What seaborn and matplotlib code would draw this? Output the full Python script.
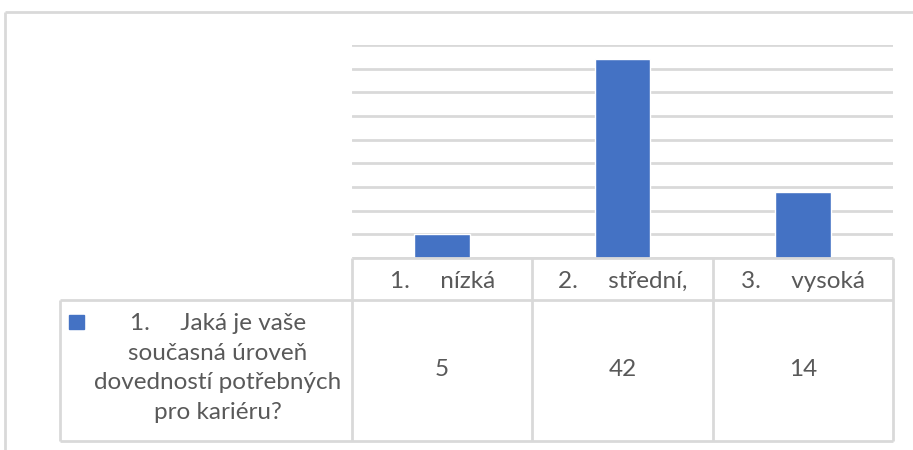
import numpy as np
import pandas as pd
import matplotlib
matplotlib.use("Agg")
import matplotlib.pyplot as plt
from matplotlib.lines import Line2D
from matplotlib.patches import Rectangle
import seaborn as sns

# ---- data ----
categories = ["nízká", "střední,", "vysoká"]
category_numbers = ["1.", "2.", "3."]
values = [5, 42, 14]
series_label = ["1.\u2003\u2002Jaká je vaše", "současná úroveň", "dovedností potřebných", "pro kariéru?"]
y_ticks = list(range(0, 46, 5))

BAR = "#4472C4"
GRID = "#d9d9d9"
TXT = "#595959"

sns.set_theme(style="white")
plt.rcParams["font.family"] = ["Lato", "DejaVu Sans"]

W, H = 913, 450
fig = plt.figure(figsize=(W / 100, H / 100), dpi=100)

def fx(px):
    return px / W

def fy(py):
    return 1 - py / H

ax = fig.add_axes([fx(352), fy(258), (893 - 352) / W, (258 - 45) / H])
df = pd.DataFrame({"cat": categories, "val": values})
sns.barplot(data=df, x="cat", y="val", color=BAR, saturation=1, width=0.31,
            ax=ax, zorder=3)
ax.set_xlim(-0.5, len(categories) - 0.5)
ax.set_ylim(0, max(y_ticks))
ax.set_yticks(y_ticks)
ax.yaxis.grid(True, color=GRID, lw=2)
ax.xaxis.grid(False)
ax.set_axisbelow(True)
ax.tick_params(length=0, labelleft=False, labelbottom=False)
for s in ax.spines.values():
    s.set_visible(False)
ax.set_xlabel("")
ax.set_ylabel("")

fig.canvas.draw()

def dx(x):
    """data x -> figure fraction"""
    return fig.transFigure.inverted().transform(ax.transData.transform((x, 0)))[0]

def line(x0, x1, y0, y1):
    fig.add_artist(Line2D([x0, x1], [y0, y1], color=GRID, lw=2,
                          transform=fig.transFigure, solid_capstyle="butt"))

n = len(categories)
y_top, y_mid, y_bot = fy(258), fy(300), fy(441)
x_left = fx(60)
# horizontal lines
line(dx(-0.5), dx(n - 0.5), y_top, y_top)
line(x_left, dx(n - 0.5), y_mid, y_mid)
line(x_left, dx(n - 0.5), y_bot, y_bot)
# vertical lines
for k in range(n + 1):
    line(dx(k - 0.5), dx(k - 0.5), y_top, y_bot)
line(x_left, x_left, y_mid, y_bot)

# outer chart border
line(fx(5), 1.0, fy(12), fy(12))
line(fx(5), fx(5), fy(12), 0.0)

fs = 17.5
gap = "\u2003\u2002"
for i, (num, name, v) in enumerate(zip(category_numbers, categories, values)):
    fig.text(dx(i), fy(281), f"{num}{gap}{name}", ha="center", va="center",
             fontsize=fs, color=TXT)
    fig.text(dx(i), fy(370), str(v), ha="center", va="center",
             fontsize=fs, color=TXT)

fig.text(fx(218), fy(368), "\n".join(series_label), ha="center", va="center",
         fontsize=fs, color=TXT, linespacing=1.5, multialignment="center")
fig.add_artist(Rectangle((fx(69), fy(329)), fx(15), 14 / H,
                         transform=fig.transFigure, color=BAR))

fig.savefig("out.png", dpi=100, facecolor="white")
